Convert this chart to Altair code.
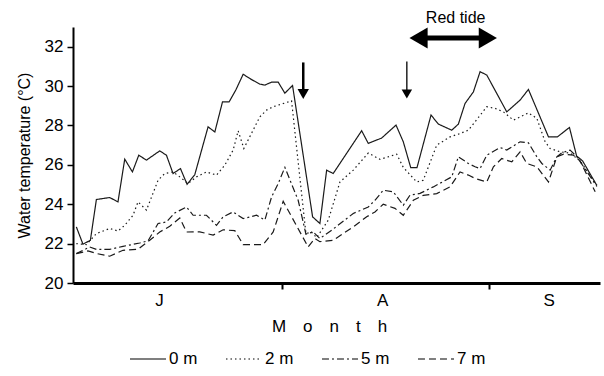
import altair as alt
import pandas as pd

depth_labels = ["0 m", "2 m", "5 m", "7 m"]

# day 0 = 1 July ; 31 = 1 Aug ; 62 = 1 Sep
day_0m = [0.25, 1.24, 2.35, 3.25, 5.24, 6.48, 7.49, 8.64, 9.59, 10.74, 12.73, 13.73, 14.72,
          15.83, 16.82, 17.97, 19.96, 20.97, 22.12, 23.11, 24.11, 25.21, 26.46, 27.71, 28.46,
          29.46, 30.45, 31.45, 32.6, 35.6, 36.69, 37.70, 38.68, 42.94, 43.93, 45.93, 48.08,
          49.17, 50.28, 51.22, 53.32, 54.41, 56.42, 57.41, 58.41, 59.65, 60.66, 61.66, 64.65,
          66.65, 67.89, 70.89, 72.23, 74.03, 75.1, 76.0, 78.13]
temp_0m = [22.85, 21.97, 22.17, 24.24, 24.34, 24.12, 26.29, 25.64, 26.49, 26.24, 26.71, 26.49, 25.56,
           25.81, 25.01, 25.5, 27.93, 27.67, 29.2, 29.2, 29.8, 30.6, 30.33, 30.1, 30.05,
           30.2, 30.2, 29.64, 30.03, 23.36, 23.02, 25.73, 25.56, 27.73, 27.09, 27.36, 28.02,
           27.17, 25.86, 25.86, 28.53, 28.07, 27.76, 28.07, 29.12, 29.7, 30.73, 30.56, 28.69,
           29.29, 29.83, 27.42, 27.42, 27.9, 26.45, 26.2, 24.95]

day_2m = [0.25, 1.75, 3.25, 5.24, 6.48, 7.49, 8.73, 9.48, 10.74, 12.48, 13.48, 14.72, 15.73,
          16.97, 18.23, 19.72, 21.22, 22.46, 23.71, 24.46, 25.31, 26.46, 27.71, 28.71, 29.7,
          32.45, 34.6, 35.45, 36.2, 37.94, 39.69, 41.68, 43.93, 45.68, 48.18, 49.17, 51.18,
          52.16, 54.17, 56.16, 57.41, 58.9, 59.91, 61.66, 62.9, 64.15, 65.64, 67.89, 69.15,
          70.39, 71.14, 72.64, 74.13, 75.63, 78.13]
temp_2m = [22.0, 21.95, 22.51, 22.77, 22.64, 22.93, 23.44, 24.12, 23.7, 25.22, 25.56, 25.64, 25.39,
           25.05, 25.39, 25.64, 25.48, 25.98, 26.75, 27.73, 26.83, 27.6, 28.44, 28.78, 28.95,
           29.25, 22.51, 22.59, 22.3, 23.19, 25.13, 25.73, 26.6, 26.28, 26.54, 25.87, 25.13,
           25.22, 27.0, 27.42, 27.56, 27.76, 28.19, 28.95, 28.87, 28.69, 28.27, 28.64, 28.36,
           27.17, 26.83, 26.66, 26.6, 26.2, 24.97]

day_5m = [0.25, 2.25, 3.25, 5.24, 7.23, 9.73, 10.98, 12.48, 13.73, 14.98, 16.73, 17.72, 19.72,
          21.22, 22.21, 23.71, 25.21, 27.21, 28.46, 29.46, 30.45, 31.45, 33.44, 34.6, 35.69,
          36.69, 38.45, 41.68, 43.93, 44.93, 46.17, 47.67, 49.17, 50.17, 51.67, 53.66, 56.42,
          57.41, 58.9, 59.91, 60.66, 61.66, 63.65, 64.65, 66.65, 67.89, 69.15, 69.9, 71.14,
          72.14, 72.89, 74.13, 75.14, 78.13]
temp_5m = [21.49, 21.83, 21.71, 21.71, 21.86, 22.03, 22.14, 23.02, 23.1, 23.56, 23.86, 23.44, 23.44,
           22.93, 23.36, 23.61, 23.27, 23.44, 23.2, 24.37, 25.05, 25.87, 24.2, 22.48, 22.59,
           22.26, 22.68, 23.53, 23.86, 24.2, 24.71, 24.63, 23.95, 24.46, 24.55, 24.88, 25.39,
           26.41, 26.07, 25.9, 25.81, 26.49, 26.88, 26.75, 27.17, 27.12, 26.41, 26.07, 25.73,
           26.41, 26.61, 26.75, 26.41, 24.9]

day_7m = [0.25, 1.99, 3.25, 5.24, 7.23, 9.48, 11.23, 12.73, 14.23, 15.73, 16.73, 18.72, 20.71,
          22.21, 23.96, 25.21, 28.2, 29.7, 31.2, 34.93, 35.93, 36.69, 38.68, 41.68, 43.69,
          44.93, 46.17, 47.92, 49.17, 50.67, 52.16, 54.17, 56.16, 57.66, 58.9, 59.91, 61.66,
          62.65, 63.9, 65.4, 66.65, 67.65, 69.15, 70.89, 72.14, 73.15, 74.63, 75.63, 77.88]
temp_7m = [21.49, 21.63, 21.5, 21.36, 21.66, 21.71, 22.17, 22.59, 22.88, 23.3, 22.59, 22.6, 22.43,
           22.7, 22.66, 21.95, 21.95, 22.59, 24.15, 21.83, 22.26, 22.1, 22.17, 22.85, 23.36,
           23.61, 24.0, 23.79, 23.44, 24.2, 24.45, 24.54, 24.88, 25.64, 25.48, 25.31, 25.13,
           25.9, 26.32, 26.15, 26.66, 26.07, 25.9, 25.13, 26.41, 26.54, 26.49, 26.2, 24.63]

month_labels = ["J", "A", "S"]
month_label_day = [12.7, 46.1, 71.0]
month_start_ticks = [31, 62]
y_ticks = [20, 22, 24, 26, 28, 30, 32]

rows = []
for lab, ds, ts in zip(depth_labels, [day_0m, day_2m, day_5m, day_7m],
                       [temp_0m, temp_2m, temp_5m, temp_7m]):
    for d, t in zip(ds, ts):
        rows.append({"depth": lab, "day": d, "temp": t})
df = pd.DataFrame(rows)

FONT = "Liberation Sans"
xscale = alt.Scale(domain=[-0.25, 78.6], nice=False, zero=False)
yscale = alt.Scale(domain=[20, 33], nice=False, zero=False)

lines = alt.Chart(df).mark_line(color="#1a1a1a", strokeWidth=1.2).encode(
    x=alt.X("day:Q", scale=xscale,
            axis=alt.Axis(values=month_start_ticks, labels=False, tickSize=6, tickWidth=2,
                          tickColor="black", domainWidth=3, domainColor="black", grid=False,
                          title="M\u2003o\u2003n\u2003t\u2003h", titleFontSize=17,
                          titleFontWeight="normal", titleFont=FONT, titleColor="black",
                          titlePadding=28, titleX=256)),
    y=alt.Y("temp:Q", scale=yscale,
            axis=alt.Axis(values=y_ticks, tickSize=6, tickWidth=1.5, tickColor="black",
                          domainWidth=2, domainColor="black", grid=False,
                          labelFontSize=17, labelFont=FONT, labelColor="black", labelPadding=4,
                          title="Water temperature (\u00b0C)", titleFontSize=16,
                          titleFontWeight="normal", titleFont=FONT, titleColor="black",
                          titlePadding=12)),
    strokeDash=alt.StrokeDash(
        "depth:N",
        scale=alt.Scale(domain=depth_labels, range=[[1, 0], [1.5, 3], [7, 3, 2, 3], [7, 4]]),
        legend=alt.Legend(title=None, orient="none", legendX=56, legendY=313, direction="horizontal",
                          symbolType="stroke", symbolSize=1300, symbolStrokeWidth=1.2,
                          symbolStrokeColor="black", labelFontSize=17, labelFont=FONT,
                          labelColor="black", labelOffset=2, columnPadding=25, padding=0)),
)

months_df = pd.DataFrame({"m": month_labels, "day": month_label_day})
month_text = alt.Chart(months_df).mark_text(fontSize=17, font=FONT, color="black",
                                            baseline="middle").encode(
    x=alt.X("day:Q", scale=xscale), y=alt.value(274), text="m:N")

# annotation arrows (data units)
arr_df = pd.DataFrame({"day": [34.2], "top": [31.2], "bot": [29.6]})
arr1 = alt.Chart(arr_df).mark_rule(strokeWidth=2.5, color="black").encode(
    x=alt.X("day:Q", scale=xscale), y=alt.Y("top:Q", scale=yscale), y2="bot:Q")
arr1h = alt.Chart(arr_df).mark_point(shape="triangle-down", filled=True, size=130,
                                     color="black", opacity=1).encode(
    x=alt.X("day:Q", scale=xscale), y=alt.Y("bot:Q", scale=yscale))
arr2_df = pd.DataFrame({"day": [49.7], "top": [31.25], "bot": [29.6]})
arr2 = alt.Chart(arr2_df).mark_rule(strokeWidth=1.3, color="black").encode(
    x=alt.X("day:Q", scale=xscale), y=alt.Y("top:Q", scale=yscale), y2="bot:Q")
arr2h = alt.Chart(arr2_df).mark_point(shape="triangle-down", filled=True, size=110,
                                      color="black", opacity=1).encode(
    x=alt.X("day:Q", scale=xscale), y=alt.Y("bot:Q", scale=yscale))

rt_df = pd.DataFrame({"d1": [51.45], "d2": [61.82], "t": [32.44], "mid": [57.0], "tt": [33.46],
                      "label": ["Red tide"]})
rt_line = alt.Chart(rt_df).mark_rule(strokeWidth=5, color="black").encode(
    x=alt.X("d1:Q", scale=xscale), x2="d2:Q", y=alt.Y("t:Q", scale=yscale))
rt_left = alt.Chart(rt_df).mark_point(shape="triangle-left", filled=True, size=440,
                                      color="black", opacity=1).encode(
    x=alt.X("d1:Q", scale=xscale), y=alt.Y("t:Q", scale=yscale))
rt_right = alt.Chart(rt_df).mark_point(shape="triangle-right", filled=True, size=440,
                                       color="black", opacity=1).encode(
    x=alt.X("d2:Q", scale=xscale), y=alt.Y("t:Q", scale=yscale))
rt_text = alt.Chart(rt_df).mark_text(fontSize=16, font=FONT, color="black").encode(
    x=alt.X("mid:Q", scale=xscale), y=alt.Y("tt:Q", scale=yscale), text="label:N")

chart = alt.layer(lines, month_text, arr1, arr1h, arr2, arr2h, rt_line, rt_left, rt_right,
                  rt_text).properties(
    width=527, height=256,
    autosize=alt.AutoSizeParams(type="none"),
    padding={"left": 73, "top": 27, "right": 4, "bottom": 93},
    background="white",
).configure_view(stroke=None)

chart.save("out.html", embed_options={"renderer": "svg", "actions": False})
